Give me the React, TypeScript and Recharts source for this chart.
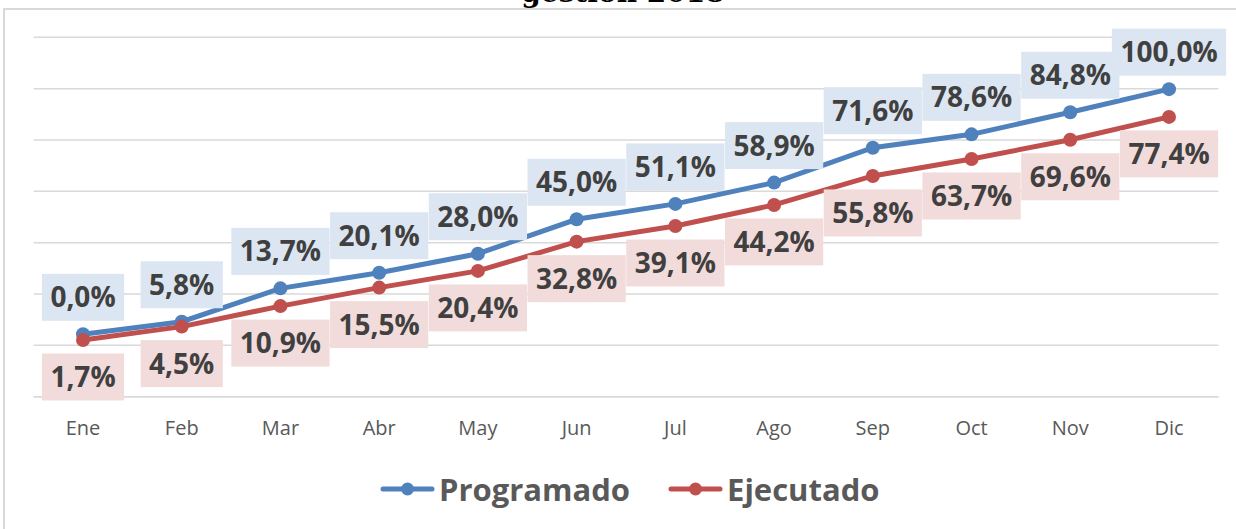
import React from 'react';
import { LineChart, Line, XAxis, YAxis, CartesianGrid, Legend, LabelList } from 'recharts';

const months = ['Ene', 'Feb', 'Mar', 'Abr', 'May', 'Jun', 'Jul', 'Ago', 'Sep', 'Oct', 'Nov', 'Dic'];
const programado = [24.3, 29.2, 42.2, 48.3, 55.7, 69.1, 75.1, 83.4, 97.0, 102.2, 110.8, 119.8];
const ejecutado = [22.1, 27.3, 35.3, 42.5, 49.0, 60.4, 66.5, 74.7, 86.0, 92.6, 100.1, 109.0];
const programadoLabels = ['0,0%', '5,8%', '13,7%', '20,1%', '28,0%', '45,0%', '51,1%', '58,9%', '71,6%', '78,6%', '84,8%', '100,0%'];
const ejecutadoLabels = ['1,7%', '4,5%', '10,9%', '15,5%', '20,4%', '32,8%', '39,1%', '44,2%', '55,8%', '63,7%', '69,6%', '77,4%'];
const yTicks = [0, 20, 40, 60, 80, 100, 120, 140];
const seriesNames = ['Programado', 'Ejecutado'];
const seriesColors = ['#4F81BD', '#C0504D'];
const title = 'gestión 2018';

const data = months.map((m, i) => ({
  month: m,
  programado: programado[i],
  ejecutado: ejecutado[i],
  progLabel: programadoLabels[i],
  ejecLabel: ejecutadoLabels[i],
}));

const LABEL_FONT = "bold 28px 'Open Sans'";
let ctx: CanvasRenderingContext2D | null = null;
function measure(t: string): number {
  if (!ctx) {
    const c = document.createElement('canvas');
    ctx = c.getContext('2d');
  }
  if (!ctx) return t.length * 16;
  ctx.font = LABEL_FONT;
  return ctx.measureText(t).width;
}

const makeLabel = (offset: number, bg: string) => (props: any) => {
  const { x, y, value } = props;
  if (x == null || y == null) return null;
  const w = measure(String(value)) + 17;
  const h = 47;
  const cy = y + offset;
  return (
    <g>
      <rect x={x - w / 2} y={cy - h / 2} width={w} height={h} fill={bg} />
      <text
        x={x}
        y={cy + 10}
        textAnchor="middle"
        fontFamily="'Open Sans'"
        fontWeight="bold"
        fontSize={28}
        fill="#404040"
      >
        {value}
      </text>
    </g>
  );
};

const renderDot = (color: string) => (props: any) => {
  const { cx, cy, index } = props;
  if (cx == null || cy == null) return null;
  return <circle key={index} cx={cx} cy={cy} r={7} fill={color} />;
};

const LegendContent = () => (
  <div style={{ display: 'flex', alignItems: 'center', height: 40, marginLeft: 380 }}>
    {seriesNames.map((n, i) => (
      <div key={n} style={{ display: 'flex', alignItems: 'center', marginRight: i === 0 ? 38 : 0 }}>
        <svg width={55} height={16} style={{ display: 'block' }}>
          <line x1={3} y1={8} x2={52} y2={8} stroke={seriesColors[i]} strokeWidth={5} strokeLinecap="round" />
          <circle cx={27.5} cy={8} r={6.5} fill={seriesColors[i]} />
        </svg>
        <span
          style={{
            fontFamily: "'Open Sans'",
            fontWeight: 'bold',
            fontSize: 31,
            color: '#595959',
            marginLeft: 4,
            lineHeight: '40px',
          }}
        >
          {n}
        </span>
      </div>
    ))}
  </div>
);

export default function App() {
  return (
    <div style={{ position: 'absolute', left: 0, top: 0, width: 1236, height: 529, overflow: 'hidden', background: '#fff' }}>
      <div
        style={{
          position: 'absolute',
          left: 3,
          top: 8,
          width: 1300,
          height: 600,
          border: '2px solid #d9d9d9',
          boxSizing: 'border-box',
        }}
      />
      <svg style={{ position: 'absolute', left: 0, top: 0 }} width={1236} height={20}>
        <text x={623} y={2} textAnchor="middle" fontFamily="'DejaVu Serif'" fontWeight="bold" fontSize={28} fill="#000">
          {title}
        </text>
      </svg>
      <div style={{ position: 'absolute', left: 0, top: 0 }}>
        <LineChart width={1236} height={529} data={data} margin={{ top: 37.3, right: 17.6, left: 33.6, bottom: 0 }}>
          <CartesianGrid vertical={false} stroke="#d9d9d9" strokeWidth={1.5} />
          <XAxis
            dataKey="month"
            height={132.3}
            padding={{ left: 49.4, right: 49.4 }}
            tickLine={false}
            axisLine={{ stroke: '#d9d9d9', strokeWidth: 1.5 }}
            tickMargin={18}
            tick={{ fontFamily: "'Open Sans'", fontSize: 20, fill: '#595959' }}
            interval={0}
          />
          <YAxis hide domain={[0, 140]} ticks={yTicks} />
          <Line
            dataKey="programado"
            name={seriesNames[0]}
            stroke={seriesColors[0]}
            strokeWidth={5}
            dot={renderDot(seriesColors[0])}
            activeDot={false}
            isAnimationActive={false}
          />
          <Line
            dataKey="ejecutado"
            name={seriesNames[1]}
            stroke={seriesColors[1]}
            strokeWidth={5}
            dot={renderDot(seriesColors[1])}
            activeDot={false}
            isAnimationActive={false}
          />
          <Line
            dataKey="programado"
            stroke="none"
            dot={false}
            activeDot={false}
            legendType="none"
            isAnimationActive={false}
          >
            <LabelList dataKey="progLabel" content={makeLabel(-37, '#DCE6F2')} />
          </Line>
          <Line
            dataKey="ejecutado"
            stroke="none"
            dot={false}
            activeDot={false}
            legendType="none"
            isAnimationActive={false}
          >
            <LabelList dataKey="ejecLabel" content={makeLabel(37, '#F2DCDB')} />
          </Line>
          <Legend
            verticalAlign="middle"
            layout="horizontal"
            content={<LegendContent />}
            wrapperStyle={{ top: 469, left: 0, width: 1236, height: 40 }}
          />
        </LineChart>
      </div>
    </div>
  );
}
